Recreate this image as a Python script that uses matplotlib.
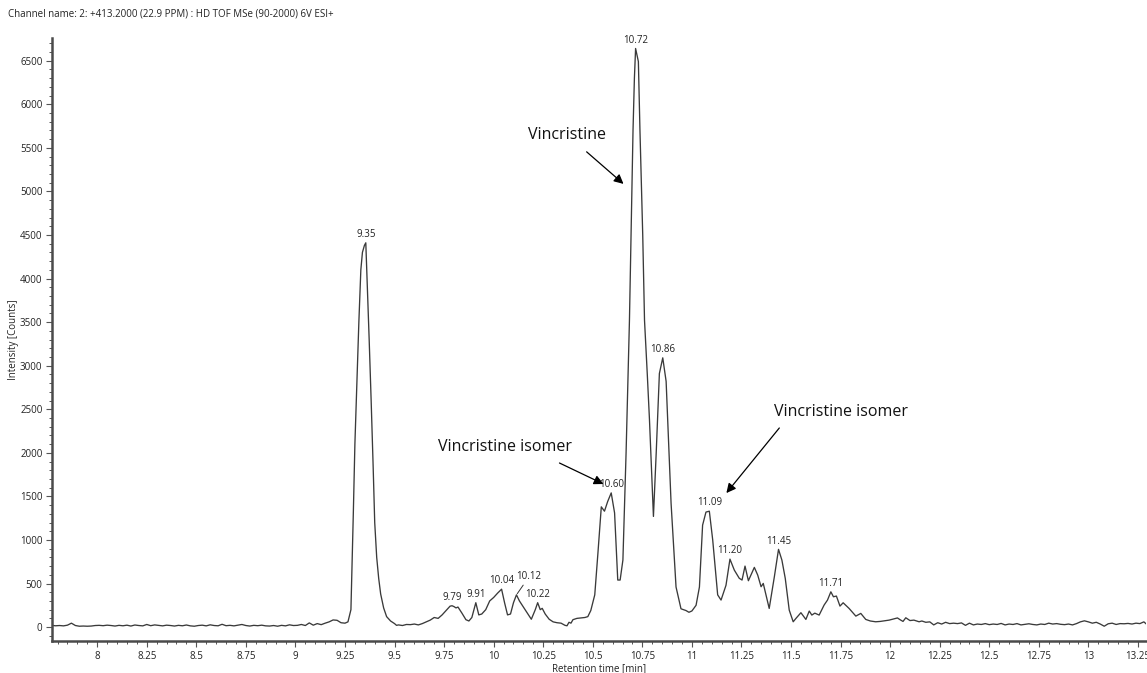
import matplotlib
matplotlib.use("Agg")
import matplotlib.pyplot as plt
from matplotlib.ticker import MultipleLocator
import numpy as np

plt.rcParams['font.family'] = ['Open Sans', 'DejaVu Sans']

# ---- data ----
rt_min = [
    7.77, 7.79, 7.81, 7.83, 7.85, 7.87, 7.89, 7.91, 7.93, 7.95, 7.97, 7.99,
    8.01, 8.03, 8.05, 8.07, 8.09, 8.11, 8.13, 8.15, 8.17, 8.19, 8.21, 8.23,
    8.25, 8.27, 8.29, 8.31, 8.33, 8.35, 8.37, 8.39, 8.41, 8.43, 8.45, 8.47,
    8.49, 8.51, 8.53, 8.55, 8.57, 8.59, 8.61, 8.63, 8.65, 8.67, 8.69, 8.71,
    8.73, 8.75, 8.77, 8.79, 8.81, 8.83, 8.85, 8.87, 8.89, 8.91, 8.93, 8.95,
    8.97, 8.99, 9.01, 9.03, 9.05, 9.07, 9.09, 9.11, 9.13, 9.15, 9.17, 9.19,
    9.21, 9.23, 9.25, 9.265,
    9.280, 9.292, 9.300, 9.310, 9.320, 9.330, 9.338, 9.348, 9.355, 9.363,
    9.372, 9.382, 9.392, 9.400, 9.410, 9.420, 9.430, 9.445, 9.460, 9.480,
    9.500, 9.510,
    9.52, 9.54, 9.56, 9.58, 9.60, 9.62, 9.64, 9.66, 9.68, 9.70, 9.72, 9.74,
    9.76, 9.78, 9.79, 9.80, 9.81, 9.82, 9.84, 9.86, 9.875, 9.89, 9.91, 9.925,
    9.94, 9.96, 9.98, 10.00, 10.02, 10.04, 10.055, 10.07, 10.085, 10.10,
    10.115, 10.13, 10.15, 10.17, 10.19, 10.21, 10.222, 10.235, 10.245, 10.26,
    10.28, 10.30, 10.32, 10.34, 10.36, 10.37, 10.38, 10.39, 10.40, 10.42,
    10.44, 10.46, 10.475, 10.49, 10.51, 10.526, 10.543, 10.559, 10.575, 10.593,
    10.61, 10.626, 10.638, 10.652, 10.668, 10.685, 10.695, 10.703, 10.710,
    10.716, 10.730, 10.738, 10.745, 10.752, 10.761, 10.775, 10.786, 10.806,
    10.82, 10.836, 10.853, 10.87, 10.895, 10.92, 10.945, 10.97, 10.985, 11.0,
    11.021, 11.038, 11.054, 11.071, 11.088, 11.105, 11.13, 11.147, 11.172,
    11.192, 11.214, 11.239, 11.253, 11.268, 11.285, 11.315, 11.332, 11.349,
    11.36, 11.39, 11.416, 11.437, 11.454, 11.471, 11.491, 11.511, 11.525,
    11.55, 11.575, 11.592, 11.605, 11.62, 11.642, 11.667, 11.684, 11.701,
    11.714, 11.729, 11.747, 11.763, 11.793, 11.81, 11.827, 11.852, 11.877,
    11.90, 11.927, 11.95, 11.97, 11.995, 12.02, 12.037, 12.05, 12.065, 12.079,
    12.10, 12.12, 12.146,
    12.16, 12.18, 12.20, 12.22, 12.24, 12.26, 12.28, 12.30, 12.32, 12.34,
    12.36, 12.38, 12.40, 12.42, 12.44, 12.46, 12.48, 12.50, 12.52, 12.54,
    12.56, 12.58, 12.60, 12.62, 12.64, 12.66, 12.68, 12.70, 12.72, 12.74,
    12.76, 12.78, 12.80, 12.82, 12.84, 12.86, 12.88, 12.90, 12.92, 12.94,
    12.96, 12.98, 13.00, 13.02, 13.04, 13.06, 13.08, 13.10, 13.12, 13.14,
    13.16, 13.18, 13.20, 13.22, 13.24, 13.26, 13.28, 13.30,
]
intensity_counts = [
    20, 15, 18, 14, 22, 45, 18, 10, 12, 10, 12, 18,
    20, 16, 22, 18, 12, 20, 15, 22, 12, 24, 18, 14,
    30, 16, 25, 20, 14, 22, 18, 12, 20, 15, 24, 14,
    10, 18, 22, 14, 26, 18, 15, 32, 16, 20, 14, 22,
    30, 18, 12, 20, 16, 22, 14, 12, 18, 10, 20, 14,
    26, 18, 20, 30, 18, 48, 22, 40, 28, 45, 60, 82,
    78, 50, 45, 60,
    200, 1300, 2100, 2800, 3500, 4100, 4300, 4380, 4410, 3900,
    3300, 2600, 1850, 1200, 800, 560, 380, 220, 120, 70,
    40, 20,
    25, 18, 30, 28, 35, 25, 40, 60, 80, 110, 100, 140,
    190, 240, 245, 235, 220, 230, 160, 85, 70, 110, 280, 140,
    150, 200, 300, 340, 390, 435, 280, 140, 150, 280,
    370, 300, 230, 160, 90, 200, 280, 200, 215, 150,
    90, 60, 50, 45, 20, 15, 55, 45, 85, 100,
    105, 110, 120, 190, 370, 850, 1380, 1330, 1440, 1540,
    1310, 540, 540, 770, 2000, 3520, 4700, 5700, 6300,
    6640, 6490, 5700, 5100, 4500, 3520, 2900, 2380, 1270,
    2000, 2910, 3090, 2820, 1420, 460, 210, 190, 170, 185,
    250, 460, 1170, 1320, 1330, 1000, 370, 310, 480,
    780, 654, 560, 540, 700, 532, 685, 597, 463,
    501, 214, 578, 892, 769, 559, 195, 61, 100,
    165, 88, 184, 138, 160, 138, 253, 310, 405,
    348, 356, 241, 279, 214, 170, 126, 157, 88,
    70, 61, 65, 72, 80, 95, 105, 85, 65, 107,
    75, 80, 61,
    70, 55, 60, 25, 50, 35, 55, 40, 45, 40,
    48, 20, 45, 25, 35, 30, 40, 28, 35, 30,
    42, 25, 35, 30, 40, 25, 32, 38, 30, 25,
    35, 30, 45, 35, 40, 32, 28, 35, 25, 40,
    60, 72, 60, 45, 55, 35, 10, 38, 45, 30,
    40, 38, 42, 35, 45, 40, 60, 20,
]

peak_labels = ["9.35", "9.79", "9.91", "10.04", "10.12", "10.22", "10.60",
               "10.72", "10.86", "11.09", "11.20", "11.45", "11.71"]
peak_rt = [9.355, 9.79, 9.91, 10.04, 10.115, 10.222, 10.593,
           10.716, 10.853, 11.088, 11.192, 11.437, 11.701]

x_ticks = [8, 8.25, 8.5, 8.75, 9, 9.25, 9.5, 9.75, 10, 10.25, 10.5, 10.75,
           11, 11.25, 11.5, 11.75, 12, 12.25, 12.5, 12.75, 13, 13.25]
x_tick_labels = ["8", "8.25", "8.5", "8.75", "9", "9.25", "9.5", "9.75", "10",
                 "10.25", "10.5", "10.75", "11", "11.25", "11.5", "11.75", "12",
                 "12.25", "12.5", "12.75", "13", "13.25"]
y_ticks = [0, 500, 1000, 1500, 2000, 2500, 3000, 3500, 4000, 4500, 5000,
           5500, 6000, 6500]

title_text = "Channel name: 2: +413.2000 (22.9 PPM) : HD TOF MSe (90-2000) 6V ESI+"

# ---- figure ----
fig = plt.figure(figsize=(11.47, 6.73), dpi=100)
ax = fig.add_axes([0.0455, 0.0475, 0.9535, 0.896])

line_col = "#3a3a3a"
ax.plot(rt_min, intensity_counts, color=line_col, lw=0.95)

ax.set_xlim(7.773, 13.29)
ax.set_ylim(-160, 6760)

for s in ["top", "right"]:
    ax.spines[s].set_visible(False)
for s in ["left", "bottom"]:
    ax.spines[s].set_color("#4a4a4a")
    ax.spines[s].set_linewidth(1.8)

ax.set_xticks(x_ticks)
ax.set_xticklabels(x_tick_labels)
ax.set_yticks(y_ticks)
ax.xaxis.set_minor_locator(MultipleLocator(0.05))
ax.yaxis.set_minor_locator(MultipleLocator(100))
ax.tick_params(axis="both", which="major", labelsize=7, length=4, width=0.8,
               color="#555555", labelcolor="#222222", pad=3)
ax.tick_params(axis="both", which="minor", length=2.5, width=0.7, color="#555555")

ax.set_ylabel("Intensity [Counts]", fontsize=7, color="#222222", labelpad=1)
ax.set_xlabel("Retention time [min]", fontsize=7, color="#222222", labelpad=1)

fig.text(0.007, 0.979, title_text, fontsize=7, color="#222222", va="center", ha="left")

# peak labels
rt_arr = np.array(rt_min)
int_arr = np.array(intensity_counts)
for lab, rt in zip(peak_labels, peak_rt):
    i = int(np.argmin(np.abs(rt_arr - rt)))
    xp, yp = rt_arr[i], int_arr[i]
    if lab == "10.12":
        ax.annotate(lab, xy=(xp, yp), xytext=(9, 9), textcoords="offset points",
                    ha="center", va="bottom", fontsize=7, color="#222222",
                    arrowprops=dict(arrowstyle="-", color="#333333", lw=0.7,
                                    shrinkA=0, shrinkB=1))
    else:
        ax.annotate(lab, xy=(xp, yp), xytext=(0, 2), textcoords="offset points",
                    ha="center", va="bottom", fontsize=7, color="#222222")

# compound annotations
ann_font = dict(fontsize=11.5, color="#111111", ha="center", va="center",
                family=["Open Sans", "DejaVu Sans"])
arrow_kw = dict(arrowstyle="-|>", color="black", lw=0.9, mutation_scale=14,
                shrinkA=0, shrinkB=0)

ax.text(10.368, 5650, "Vincristine", **ann_font)
ax.annotate("", xy=(10.655, 5086), xytext=(10.469, 5454), arrowprops=arrow_kw)

ax.text(10.055, 2067, "Vincristine isomer", **ann_font)
ax.annotate("", xy=(10.554, 1642), xytext=(10.332, 1883), arrowprops=arrow_kw)

ax.text(11.753, 2468, "Vincristine isomer", **ann_font)
ax.annotate("", xy=(11.174, 1538), xytext=(11.441, 2285), arrowprops=arrow_kw)

fig.savefig("out.png", dpi=100)
